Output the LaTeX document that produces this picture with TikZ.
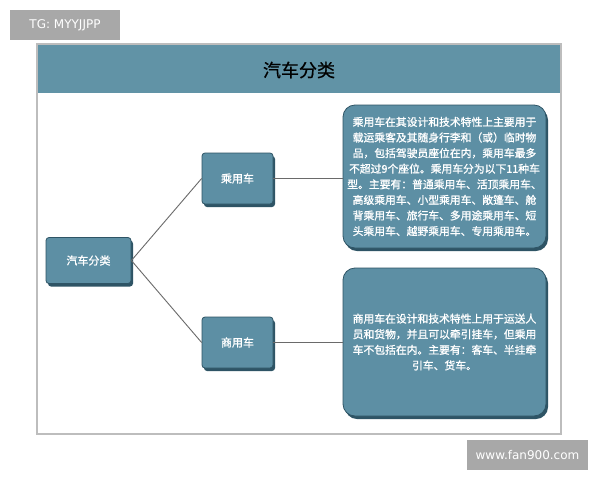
\documentclass[tikz,border=0pt]{standalone}
\usepackage{fontspec}
\newfontfamily\cjk[FakeBold=0.6]{Noto Sans CJK SC}
\newfontfamily\cjkb[FakeBold=1.2]{Noto Sans CJK SC}
\newfontfamily\wmfont{DejaVu Sans}
\definecolor{boxblue}{HTML}{5D8FA4}
\definecolor{boxdark}{HTML}{2E5465}
\definecolor{titleblue}{HTML}{6193A6}
\definecolor{framegray}{HTML}{BDBDBD}
\definecolor{wmgray}{HTML}{A8A8A8}
\definecolor{linegray}{HTML}{6A6A6A}
\tikzset{
  bevel/.style={fill=boxblue, draw=boxdark, line width=0.8pt, inner sep=0pt,
    preaction={fill=boxdark, transform canvas={shift={(2pt,-3pt)}}}},
  smallbox/.style={bevel, rounded corners=3pt, minimum width=84pt, text=white,
    font=\cjkb\fontsize{11}{13}\selectfont},
  descbox/.style={bevel, rounded corners=12pt, text=white, align=center,
    font=\cjkb\fontsize{10.8}{15.6}\selectfont},
  conn/.style={draw=linegray, line width=0.9pt},
  wm/.style={fill=wmgray, text=white, font=\wmfont\fontsize{12}{14}\selectfont, inner sep=0pt}
}
\begin{document}
\begin{tikzpicture}[x=1pt,y=-1pt]
\useasboundingbox (0,0) rectangle (600,480);
\fill[white] (0,0) rectangle (600,480);
% frame and title band
\draw[framegray, line width=1.2pt] (37,44) rectangle (561,434);
\fill[titleblue] (37.6,44.6) rectangle (560.4,93);
\node[font=\cjk\fontsize{18}{20}\selectfont, text=black] (title) at (299,70) {汽车分类};
% nodes
\node[smallbox, minimum width=85pt, minimum height=46pt] (root) at (88.5,260.5) {汽车分类};
\node[smallbox, minimum width=71pt, minimum height=51pt] (pv) at (237.5,178.5) {乘用车};
\node[smallbox, minimum width=71pt, minimum height=51pt] (cv) at (237.5,342.5) {商用车};
\node[descbox, minimum width=203pt, minimum height=143pt] (d1) at (444.5,176.5) {乘用车在其设计和技术特性上主要用于\\载运乘客及其随身行李和（或）临时物\\品，包括驾驶员座位在内，乘用车最多\\不超过9个座位。乘用车分为以下11种车\\型。主要有：普通乘用车、活顶乘用车、\\高级乘用车、小型乘用车、敞篷车、舱\\背乘用车、旅行车、多用途乘用车、短\\头乘用车、越野乘用车、专用乘用车。};
\node[descbox, minimum width=203pt, minimum height=148pt] (d2) at (444.5,342) {商用车在设计和技术特性上用于运送人\\员和货物，并且可以牵引挂车，但乘用\\车不包括在内。主要有：客车、半挂牵\\引车、货车。};
% connectors
\draw[conn] (root.east) -- (pv.west);
\draw[conn] (root.east) -- (cv.west);
\draw[conn] (pv.east) -- (pv.east -| d1.west);
\draw[conn] (cv.east) -- (cv.east -| d2.west);
% watermarks
\node[wm, minimum width=110pt, minimum height=30pt] (wm1) at (65,25) {TG: MYYJJPP};
\node[wm, minimum width=121pt, minimum height=30pt] (wm2) at (527.5,455) {www.fan900.com};
\end{tikzpicture}
\end{document}
